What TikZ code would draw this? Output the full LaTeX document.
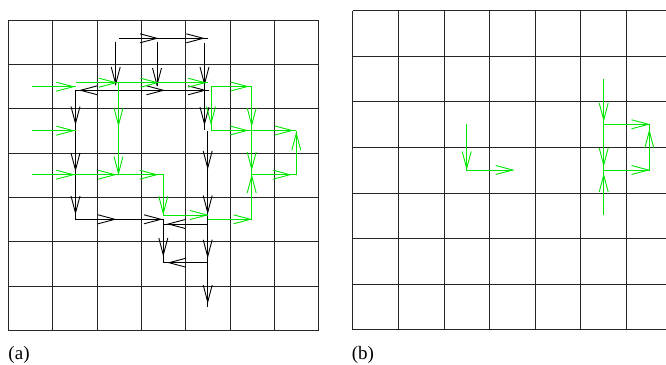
\documentclass[tikz,border=0pt]{standalone}
\usepackage{fontspec}
\setmainfont{Liberation Serif}
\definecolor{flowgreen}{RGB}{0,230,0}
\tikzset{
  gridline/.style={black!85, line width=0.8pt},
  flow/.style={line width=0.9pt},
  tipr/.pic={\draw[flow] (-17,-4.5) -- (0,0) -- (-17,4.5);},
  tipl/.pic={\draw[flow] (17,-4.5) -- (0,0) -- (17,4.5);},
  tipd/.pic={\draw[flow] (-4.5,-17) -- (0,0) -- (4.5,-17);},
  tipu/.pic={\draw[flow] (-4.5,17) -- (0,0) -- (4.5,17);},
  panel/.style={anchor=base west, inner sep=0pt, font=\fontsize{19}{22}\selectfont}
}

\begin{document}
\begin{tikzpicture}[x=1pt,y=-1pt]
\useasboundingbox (0,0) rectangle (666,364);
% lattice (a)
\foreach \k in {0,...,7} {
  \draw[gridline] ({8.3+44.36*\k},20) -- ({8.3+44.36*\k},330.5);
  \draw[gridline] (8.3,{20+44.36*\k}) -- (318.8,{20+44.36*\k});
}
% lattice (b)
\foreach \k in {0,...,6}
  \draw[gridline] ({352.7+45.6*\k},10.7) -- ({352.7+45.6*\k},329.7);
\foreach \k in {0,...,7}
  \draw[gridline] (352.7,{10.7+45.57*\k}) -- (666,{10.7+45.57*\k});

% black paths
\begin{scope}[flow]
  \draw (119,38.3) -- (207.7,38.3);
  \draw (115.7,41.5) -- (115.7,85);
  \draw (157,41.5) -- (157,86);
  \draw (204.5,43) -- (204.5,130);
  \draw (75.5,90.3) -- (209,90.3);
  \draw (75.5,90.3) -- (75.5,219.3) -- (163.3,219.3) -- (163.3,262.7) -- (207.7,262.7);
  \draw (163.3,224) -- (207.7,224);
  \draw (207.7,131) -- (207.7,306.7);
  \foreach \x/\y in {157/38.3, 203.3/38.3, 163.5/90.3, 205/90.3, 115/219.3, 161/219.3}
    \pic at (\x,\y) {tipr};
  \foreach \x/\y in {115.7/84, 157/85, 204.5/84, 204.5/124, 75.5/123.5, 75.5/170, 75.5/213,
                     163.3/255, 207.7/168, 207.7/212.5, 207.7/256.7, 207.7/302}
    \pic at (\x,\y) {tipd};
  \foreach \x/\y in {80.5/90.3, 168.3/224, 169/262.7}
    \pic at (\x,\y) {tipl};
\end{scope}

% green paths
\begin{scope}[flow, flowgreen]
  \draw (31.7,86.7) -- (76,86.7);
  \draw (31.7,130.7) -- (76,130.7);
  \draw (31.7,174.7) -- (163.3,174.7) -- (163.3,215) -- (207.7,215);
  \draw (207.7,219.3) -- (251.7,219.3) -- (251.7,174.7) -- (296.3,174.7) -- (296.3,130.5);
  \draw (211,86.5) -- (251.7,86.5) -- (251.7,174.7);
  \draw (211,86.5) -- (211,130.5) -- (296.3,130.5);
  \draw (76,82.7) -- (208,82.7);
  \draw (118.5,83) -- (118.5,175);
  % (b)
  \draw (466.7,124.3) -- (466.7,170) -- (512.7,170);
  \draw (603.7,79.3) -- (603.7,215);
  \draw (603.7,124.3) -- (649.3,124.3) -- (649.3,170) -- (603.7,170);
  \foreach \x/\y in {73.3/86.7, 73.3/130.7, 73.3/174.7, 115/174.7, 156.7/174.7, 207/215,
                     250.5/219.3, 290/174.7, 247.5/86.5, 247/130.5, 292/130.5,
                     116/82.7, 157.5/82.7, 205/82.7, 512.7/170, 648.5/124.3, 648.5/170}
    \pic at (\x,\y) {tipr};
  \foreach \x/\y in {163.3/213.3, 251.7/125, 251.7/169, 211/123.5, 118.5/125, 118.5/173.5,
                     466.7/168.5, 603.7/120, 603.7/165}
    \pic at (\x,\y) {tipd};
  \foreach \x/\y in {251.7/176, 296.3/133.3, 649.3/131, 603.7/175}
    \pic at (\x,\y) {tipu};
\end{scope}

\node[panel] (lbla) at (8.3,359) {(a)};
\node[panel] (lblb) at (351.7,359) {(b)};
\end{tikzpicture}
\end{document}
